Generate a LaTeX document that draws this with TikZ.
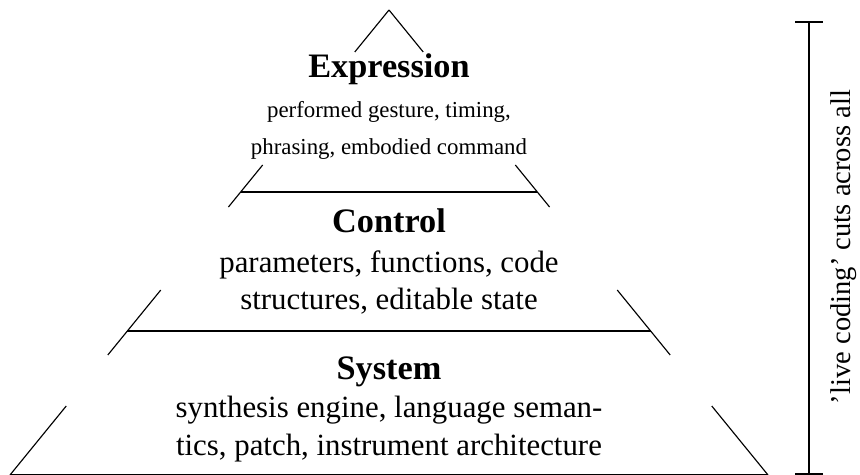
\documentclass[tikz,border=0pt]{standalone}
\usepackage{fontspec}
\setmainfont{Liberation Serif}
\usetikzlibrary{arrows.meta,calc}

\begin{document}
\begin{tikzpicture}[x=0.35pt, y=-0.35pt,
  hd/.style={font=\fontsize{12}{14}\selectfont\bfseries, anchor=base, inner sep=1pt},
  txt/.style={font=\fontsize{10.8}{13}\selectfont, align=center, anchor=base, inner sep=1pt},
  sml/.style={txt, font=\fontsize{8}{13}\selectfont},
  pyr/.style={line width=0.4pt},
  brk/.style={{Bar[width=9.8pt]}-{Bar[width=9.8pt]}, line width=0.6pt},
]
\useasboundingbox (0,0) rectangle (860,475);

% --- pyramid outline ---
\coordinate (apex) at (389,10);
\coordinate (bl) at (10,475);
\coordinate (br) at (768,475);
\foreach \a/\b in {0/0.0903, 0.3333/0.4237, 0.6022/0.7419, 0.8516/1} {
  \draw[pyr] ($(apex)!\a!(bl)$) -- ($(apex)!\b!(bl)$);
  \draw[pyr] ($(apex)!\a!(br)$) -- ($(apex)!\b!(br)$);
}
\draw[pyr] ($(apex)!0.3914!(bl)$) -- ($(apex)!0.3914!(br)$);
\draw[pyr] ($(apex)!0.6903!(bl)$) -- ($(apex)!0.6903!(br)$);
\draw[pyr] (bl) -- (br);

% --- layers (base = last line) ---
\node[hd] (hexp) at (389,78) {Expression};
\node[sml] (texp) at (389,155) {performed gesture, timing,\\phrasing, embodied command};
\node[hd] (hctl) at (389,233) {Control};
\node[txt] (tctl) at (389,310) {parameters, functions, code\\structures, editable state};
\node[hd] (hsys) at (389,380) {System};
\node[txt] (tsys) at (389,455) {synthesis engine, language seman-\\tics, patch, instrument architecture};

% --- live coding bracket ---
\coordinate (ltop) at (809,21);
\coordinate (lbot) at (809,475);
\draw[brk] (ltop) -- (lbot);
\node[rotate=90, anchor=base, font=\fontsize{10}{12}\selectfont, inner sep=1pt] (lbl) at (850,247) {'live coding' cuts across all};
\end{tikzpicture}
\end{document}
